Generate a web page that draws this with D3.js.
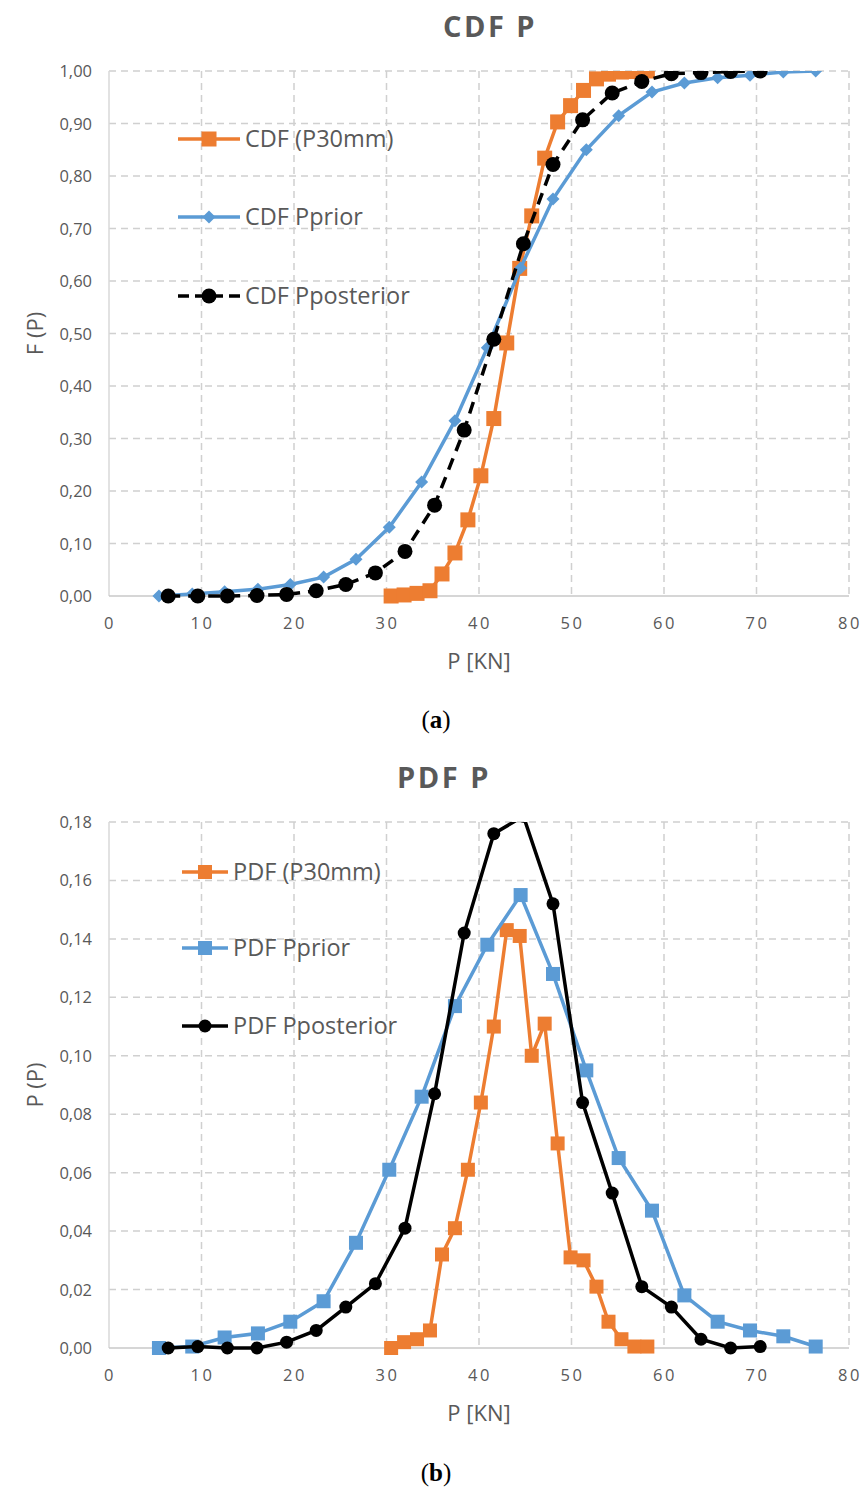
<!DOCTYPE html>
<html>
<head>
<meta charset="utf-8">
<script src="https://cdn.jsdelivr.net/npm/d3@7"></script>
<style>
  body { margin: 0; background: #fff; }
  text { font-family: "Open Sans", "Noto Sans", sans-serif; fill: #595959; }
</style>
</head>
<body>
<div id="chart"></div>
<script>
// x positions (P, kN) for each series
var xP30 = [30.5, 31.9, 33.3, 34.7, 36.0, 37.4, 38.8, 40.2, 41.6, 43.0, 44.4, 45.7, 47.1, 48.5, 49.9, 51.3, 52.7, 54.0, 55.4, 56.8, 58.2];
var xPrior = [5.4, 9.0, 12.5, 16.1, 19.6, 23.2, 26.7, 30.3, 33.8, 37.4, 40.9, 44.5, 48.0, 51.6, 55.1, 58.7, 62.2, 65.8, 69.3, 72.9, 76.4];
var xPost = [6.4, 9.6, 12.8, 16.0, 19.2, 22.4, 25.6, 28.8, 32.0, 35.2, 38.4, 41.6, 44.8, 48.0, 51.2, 54.4, 57.6, 60.8, 64.0, 67.2, 70.4];

// CDF values (chart a)
var cdfP30 = [0, 0.002, 0.005, 0.010, 0.042, 0.082, 0.145, 0.229, 0.338, 0.482, 0.624, 0.724, 0.834, 0.903, 0.934, 0.963, 0.985, 0.994, 0.998, 0.999, 1.0];
var cdfPrior = [0, 0.004, 0.008, 0.013, 0.022, 0.036, 0.070, 0.131, 0.217, 0.334, 0.473, 0.625, 0.756, 0.850, 0.915, 0.960, 0.977, 0.987, 0.992, 0.998, 1.0];
var cdfPost = [0, 0, 0, 0.001, 0.003, 0.010, 0.022, 0.044, 0.085, 0.173, 0.316, 0.489, 0.671, 0.822, 0.907, 0.958, 0.980, 0.995, 0.997, 0.999, 1.0];

// PDF values (chart b)
var pdfP30 = [0, 0.002, 0.003, 0.006, 0.032, 0.041, 0.061, 0.084, 0.110, 0.143, 0.141, 0.100, 0.111, 0.070, 0.031, 0.030, 0.021, 0.009, 0.003, 0.0005, 0.0005];
var pdfPrior = [0, 0.0005, 0.0036, 0.005, 0.009, 0.016, 0.036, 0.061, 0.086, 0.117, 0.138, 0.155, 0.128, 0.095, 0.065, 0.047, 0.018, 0.009, 0.006, 0.004, 0.0005];
var pdfPost = [0, 0.0005, 0, 0, 0.002, 0.006, 0.014, 0.022, 0.041, 0.087, 0.142, 0.176, 0.182, 0.152, 0.084, 0.053, 0.021, 0.014, 0.003, 0, 0.0005];

var xTicks = [0, 10, 20, 30, 40, 50, 60, 70, 80];
var cdfTicks = [0, 0.1, 0.2, 0.3, 0.4, 0.5, 0.6, 0.7, 0.8, 0.9, 1.0];
var pdfTicks = [0, 0.02, 0.04, 0.06, 0.08, 0.10, 0.12, 0.14, 0.16, 0.18];

var orange = "#ED7D31", blue = "#5B9BD5", black = "#000000";

var svg = d3.select("#chart").append("svg")
  .attr("width", 866)
  .attr("height", 1490);

svg.append("rect").attr("width", 866).attr("height", 1490).attr("fill", "#fff");

var fmt = function(d) { return d3.format(".2f")(d).replace(".", ","); };

// draw one chart panel
function drawPanel(cfg) {
  var left = 109, right = 849;
  var x = d3.scaleLinear().domain([0, 80]).range([left, right]);
  var y = d3.scaleLinear().domain([0, cfg.yMax]).range([cfg.bottom, cfg.top]);

  var g = svg.append("g");

  // title
  g.append("text")
    .attr("x", cfg.titleX).attr("y", cfg.top - 34)
    .attr("text-anchor", "middle")
    .attr("font-size", "29px")
    .attr("font-weight", "bold")
    .attr("letter-spacing", "2.5px")
    .text(cfg.title);

  // horizontal grid
  g.selectAll(".hgrid").data(cfg.yTicks.slice(1)).enter()
    .append("line")
    .attr("x1", left).attr("x2", right)
    .attr("y1", d => y(d)).attr("y2", d => y(d))
    .attr("stroke", "#d0d0d0").attr("stroke-width", 1.5)
    .attr("stroke-dasharray", "7,5");

  // vertical grid
  g.selectAll(".vgrid").data(xTicks.slice(1)).enter()
    .append("line")
    .attr("x1", d => x(d)).attr("x2", d => x(d))
    .attr("y1", cfg.top).attr("y2", cfg.bottom)
    .attr("stroke", "#d0d0d0").attr("stroke-width", 1.5)
    .attr("stroke-dasharray", "7,5");

  // axis lines
  g.append("line").attr("x1", left).attr("x2", left)
    .attr("y1", cfg.top).attr("y2", cfg.bottom)
    .attr("stroke", "#d9d9d9").attr("stroke-width", 1.5);
  g.append("line").attr("x1", left).attr("x2", right)
    .attr("y1", cfg.bottom).attr("y2", cfg.bottom)
    .attr("stroke", "#c8c8c8").attr("stroke-width", 1.5);

  // y tick labels
  g.selectAll(".ylab").data(cfg.yTicks).enter()
    .append("text")
    .attr("x", 92).attr("y", d => y(d) + 6)
    .attr("text-anchor", "end")
    .attr("font-size", "16.5px")
    .text(fmt);

  // x tick labels
  g.selectAll(".xlab").data(xTicks).enter()
    .append("text")
    .attr("x", d => x(d) + 1).attr("y", cfg.bottom + 33)
    .attr("text-anchor", "middle")
    .attr("font-size", "16.5px")
    .attr("letter-spacing", "2.5px")
    .text(d => d);

  // axis titles
  g.append("text")
    .attr("x", 479).attr("y", cfg.bottom + 73)
    .attr("text-anchor", "middle")
    .attr("font-size", "22px")
    .text("P [KN]");
  g.append("text")
    .attr("transform", `translate(43, ${(cfg.top + cfg.bottom) / 2}) rotate(-90)`)
    .attr("text-anchor", "middle")
    .attr("font-size", "22px")
    .text(cfg.yTitle);

  // clip so values above the axis max are cut like in the original
  var clipId = "clip" + cfg.id;
  svg.append("clipPath").attr("id", clipId)
    .append("rect")
    .attr("x", left - 30).attr("y", cfg.top)
    .attr("width", right - left + 60).attr("height", cfg.bottom - cfg.top + 30);

  var plot = g.append("g").attr("clip-path", `url(#${clipId})`);

  var line = d3.line().x(d => x(d[0])).y(d => y(d[1]));

  cfg.series.forEach(function(s) {
    var pts = s.xs.map((v, i) => [v, s.ys[i]]);
    plot.append("path")
      .datum(pts)
      .attr("fill", "none")
      .attr("stroke", s.color)
      .attr("stroke-width", 3.5)
      .attr("stroke-dasharray", s.dash || null)
      .attr("d", line);
    drawMarkers(plot, pts.map(p => [x(p[0]), y(p[1])]), s);
  });

  // legend
  cfg.series.forEach(function(s, i) {
    var ly = cfg.legendY[i];
    g.append("line")
      .attr("x1", cfg.legendX0).attr("x2", cfg.legendX1)
      .attr("y1", ly).attr("y2", ly)
      .attr("stroke", s.color).attr("stroke-width", 3.5)
      .attr("stroke-dasharray", s.dash ? "11,6" : null);
    drawMarkers(g, [[(cfg.legendX0 + cfg.legendX1) / 2, ly]], s);
    g.append("text")
      .attr("x", cfg.legendX1 + 5).attr("y", ly + 8)
      .attr("font-size", "23.5px")
      .text(s.name);
  });
}

function drawMarkers(sel, pts, s) {
  if (s.marker === "square") {
    sel.selectAll(null).data(pts).enter()
      .append("rect")
      .attr("x", d => d[0] - s.size / 2).attr("y", d => d[1] - s.size / 2)
      .attr("width", s.size).attr("height", s.size)
      .attr("fill", s.color);
  } else if (s.marker === "diamond") {
    sel.selectAll(null).data(pts).enter()
      .append("path")
      .attr("d", d => `M${d[0]},${d[1] - s.size / 2}L${d[0] + s.size / 2},${d[1]}L${d[0]},${d[1] + s.size / 2}L${d[0] - s.size / 2},${d[1]}Z`)
      .attr("fill", s.color);
  } else {
    sel.selectAll(null).data(pts).enter()
      .append("circle")
      .attr("cx", d => d[0]).attr("cy", d => d[1])
      .attr("r", s.size / 2)
      .attr("fill", s.color);
  }
}

drawPanel({
  id: "a", title: "CDF P", titleX: 490, yTitle: "F (P)",
  top: 71, bottom: 596, yMax: 1.0, yTicks: cdfTicks,
  legendX0: 178, legendX1: 240, legendY: [139, 217, 296],
  series: [
    { name: "CDF (P30mm)", xs: xP30, ys: cdfP30, color: orange, marker: "square", size: 15 },
    { name: "CDF Pprior", xs: xPrior, ys: cdfPrior, color: blue, marker: "diamond", size: 13 },
    { name: "CDF Pposterior", xs: xPost, ys: cdfPost, color: black, marker: "circle", size: 15, dash: "12,8" }
  ]
});

drawPanel({
  id: "b", title: "PDF P", titleX: 444, yTitle: "P (P)",
  top: 822, bottom: 1348, yMax: 0.18, yTicks: pdfTicks,
  legendX0: 182, legendX1: 228, legendY: [872, 948, 1026],
  series: [
    { name: "PDF (P30mm)", xs: xP30, ys: pdfP30, color: orange, marker: "square", size: 14 },
    { name: "PDF Pprior", xs: xPrior, ys: pdfPrior, color: blue, marker: "square", size: 14 },
    { name: "PDF Pposterior", xs: xPost, ys: pdfPost, color: black, marker: "circle", size: 13 }
  ]
});

// sub-captions
[["a", 720], ["b", 1473]].forEach(function(c) {
  var t = svg.append("text")
    .attr("x", 436).attr("y", c[1] + 8)
    .attr("text-anchor", "middle")
    .attr("font-size", "25px")
    .style("font-family", "'Liberation Serif', 'DejaVu Serif', serif")
    .style("fill", "#000");
  t.append("tspan").text("(");
  t.append("tspan").attr("font-weight", "bold").text(c[0]);
  t.append("tspan").text(")");
});
</script>
</body>
</html>
